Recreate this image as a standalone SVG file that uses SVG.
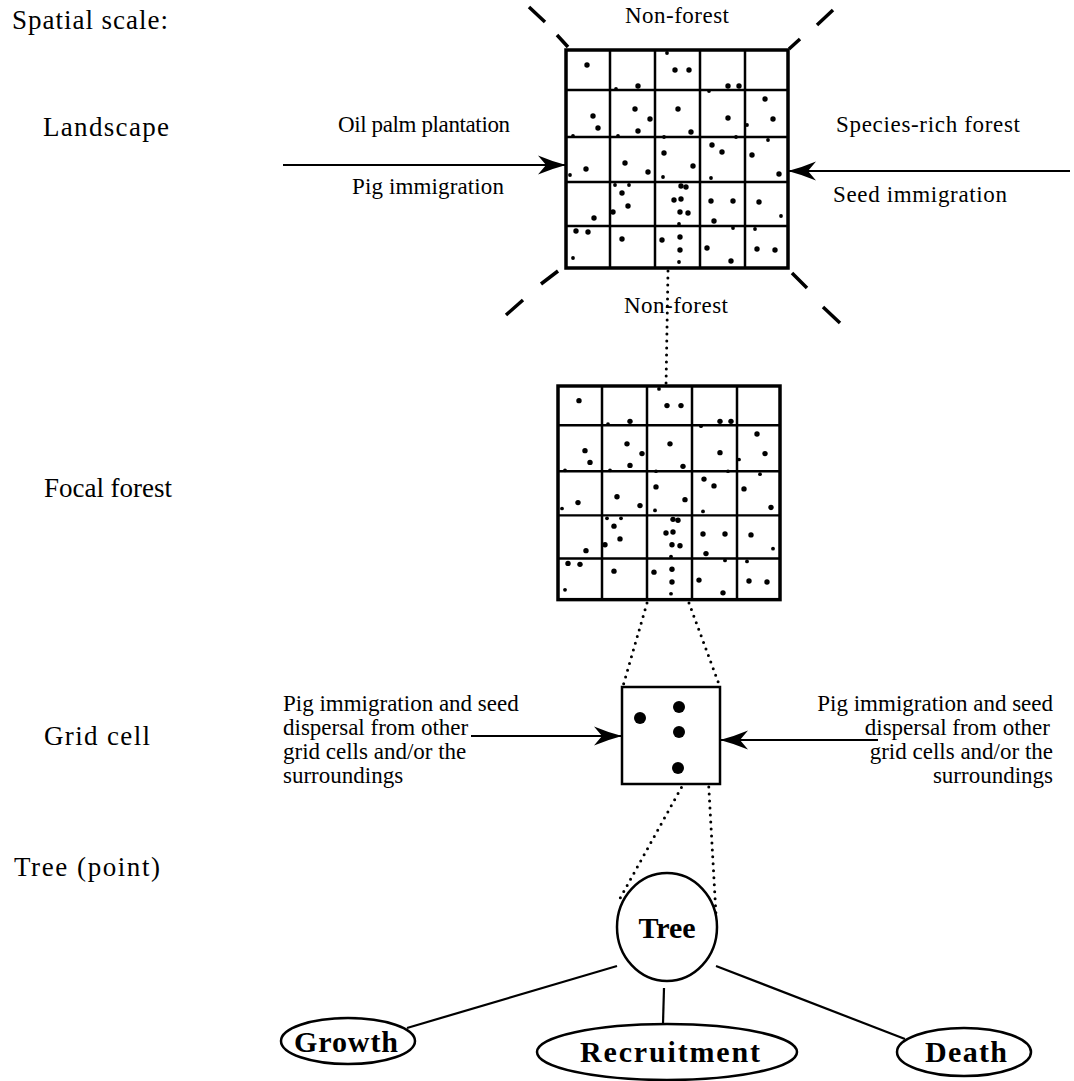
<svg xmlns="http://www.w3.org/2000/svg" xmlns:xlink="http://www.w3.org/1999/xlink" width="1074" height="1081" viewBox="0 0 1074 1081">
<style>
  text { font-family: "Liberation Serif", "Times New Roman", serif; fill: #000; }
  .lbl { font-size: 27px; }
  .sm { font-size: 23px; }
  .bold { font-size: 30px; font-weight: bold; }
  .line { stroke: #000; stroke-width: 2.2; fill: none; }
  .dots { stroke: #000; stroke-width: 3; stroke-linecap: round; stroke-dasharray: 0 7; fill: none; }
  .dash { stroke: #000; stroke-width: 3.5; stroke-linecap: butt; fill: none; }
  .outer { stroke: #000; stroke-width: 3.5; fill: #fff; }
  .inner { stroke: #000; stroke-width: 2.5; fill: none; }
  .shape { stroke: #000; stroke-width: 2.5; fill: #fff; }
  .arrow { stroke: #000; stroke-width: 2.2; fill: none; marker-end: url(#head); }
</style>
<defs>
  <marker id="head" markerUnits="userSpaceOnUse" markerWidth="30" markerHeight="22" refX="28" refY="10" orient="auto" viewBox="0 0 30 22">
    <path d="M28,10 Q13,6 0,0.5 L8,10 L0,19.5 Q13,14 28,10 Z" fill="#000"/>
  </marker>
  <g id="forestGrid">
    <rect class="outer" x="566" y="50" width="222" height="218"/>
    <path class="inner" d="M610,50V268M655,50V268M700,50V268M745,50V268M566,90H788M566,137H788M566,182H788M566,226H788"/>
    <g fill="#000">
      <circle cx="587" cy="65" r="2.7"/><circle cx="638" cy="86" r="2.7"/><circle cx="675" cy="70" r="2.7"/><circle cx="689" cy="70" r="2.7"/><circle cx="728" cy="86" r="2.7"/><circle cx="739" cy="86" r="2.7"/>
      <circle cx="593" cy="116" r="2.7"/><circle cx="598" cy="128" r="2.7"/><circle cx="635" cy="109" r="2.7"/><circle cx="650" cy="119" r="2.7"/><circle cx="638" cy="131" r="2.7"/><circle cx="678" cy="109" r="2.7"/><circle cx="691" cy="132" r="2.7"/><circle cx="728" cy="118" r="2.7"/><circle cx="765" cy="99" r="2.7"/><circle cx="773" cy="119" r="2.7"/>
      <circle cx="586" cy="169" r="2.7"/><circle cx="625" cy="163" r="2.7"/><circle cx="648" cy="172" r="2.7"/><circle cx="664" cy="153" r="2.7"/><circle cx="693" cy="166" r="2.7"/><circle cx="712" cy="145" r="2.7"/><circle cx="722" cy="152" r="2.7"/><circle cx="752" cy="155" r="2.7"/><circle cx="779" cy="174" r="2.7"/>
      <circle cx="622" cy="193" r="2.7"/><circle cx="628" cy="206" r="2.7"/><circle cx="613" cy="212" r="2.7"/><circle cx="594" cy="218" r="2.7"/><circle cx="681" cy="186" r="2.7"/><circle cx="686" cy="187" r="2.7"/><circle cx="674" cy="200" r="2.7"/><circle cx="681" cy="199" r="2.7"/><circle cx="680" cy="212" r="2.7"/><circle cx="688" cy="213" r="2.7"/><circle cx="711" cy="201" r="2.7"/><circle cx="733" cy="201" r="2.7"/><circle cx="714" cy="221" r="2.7"/><circle cx="759" cy="202" r="2.7"/>
      <circle cx="576" cy="231" r="2.7"/><circle cx="588" cy="232" r="2.7"/><circle cx="622" cy="239" r="2.7"/><circle cx="662" cy="240" r="2.7"/><circle cx="680" cy="237" r="2.7"/><circle cx="680" cy="250" r="2.7"/><circle cx="707" cy="248" r="2.7"/><circle cx="731" cy="261" r="2.7"/><circle cx="757" cy="249" r="2.7"/><circle cx="775" cy="250" r="2.7"/>
      <circle cx="616" cy="89" r="1.9"/><circle cx="667" cy="53" r="1.9"/><circle cx="709" cy="91" r="1.9"/><circle cx="747" cy="125" r="1.9"/><circle cx="573" cy="136" r="1.9"/><circle cx="618" cy="136" r="1.9"/><circle cx="664" cy="137" r="1.9"/><circle cx="736" cy="137" r="1.9"/><circle cx="768" cy="140" r="1.9"/><circle cx="570" cy="175" r="1.9"/><circle cx="663" cy="177" r="1.9"/><circle cx="711" cy="178" r="1.9"/><circle cx="615" cy="185" r="1.9"/><circle cx="629" cy="185" r="1.9"/><circle cx="679" cy="224" r="1.9"/><circle cx="733" cy="228" r="1.9"/><circle cx="781" cy="216" r="1.9"/><circle cx="755" cy="229" r="1.9"/><circle cx="573" cy="258" r="1.9"/><circle cx="679" cy="262" r="1.9"/>
    </g>
  </g>
</defs>
<rect width="1074" height="1081" fill="#fff"/>

<g id="scale-labels">
  <text class="lbl" x="12" y="29" textLength="156">Spatial scale:</text>
  <text class="lbl" x="43" y="136" textLength="126">Landscape</text>
  <text class="lbl" x="44" y="497" textLength="128">Focal forest</text>
  <text class="lbl" x="44" y="745" textLength="106">Grid cell</text>
  <text class="lbl" x="14" y="876" textLength="146">Tree (point)</text>
</g>

<g id="connectors">
  <line class="arrow" x1="283" y1="165" x2="566" y2="165"/>
  <line class="arrow" x1="1070" y1="171" x2="788" y2="171"/>
  <line class="arrow" x1="471" y1="736" x2="622" y2="736"/>
  <line class="arrow" x1="878" y1="740" x2="720" y2="740"/>
  <line class="dots" x1="668" y1="271" x2="666" y2="386"/>
  <line class="dots" x1="647" y1="603" x2="623" y2="686"/>
  <line class="dots" x1="689" y1="603" x2="720" y2="687"/>
  <line class="dots" x1="695" y1="763" x2="618" y2="902"/>
  <line class="dots" x1="708" y1="773" x2="716" y2="915"/>
  <line class="line" x1="617" y1="966" x2="407" y2="1028"/>
  <line class="line" x1="664" y1="988" x2="663" y2="1024"/>
  <line class="line" x1="716" y1="966" x2="905" y2="1039"/>
</g>

<g id="landscape">
  <use xlink:href="#forestGrid" href="#forestGrid"/>
  <path class="dash" d="M568,47L557,35M545,22L529,7M789,49L800,39M817,25L833,10M558,271L541,284M523,300L506,315M792,273L807,288M823,307L840,323"/>
  <text class="sm" x="677" y="23" text-anchor="middle" textLength="104">Non-forest</text>
  <text class="sm" x="676" y="313" text-anchor="middle" textLength="104">Non-forest</text>
  <text class="sm" x="338" y="132" textLength="172">Oil palm plantation</text>
  <text class="sm" x="352" y="194" textLength="152">Pig immigration</text>
  <text class="sm" x="836" y="132" textLength="184">Species-rich forest</text>
  <text class="sm" x="833" y="202" textLength="174">Seed immigration</text>
</g>

<g id="focal-forest">
  <use xlink:href="#forestGrid" href="#forestGrid" transform="translate(558,386) scale(1,0.98) translate(-566,-50)"/>
</g>

<g id="grid-cell">
  <rect class="outer" x="622" y="687" width="98" height="97" style="stroke-width:2.5"/>
  <g fill="#000">
    <circle cx="640" cy="718" r="6"/>
    <circle cx="679" cy="707" r="6"/>
    <circle cx="679" cy="732" r="6"/>
    <circle cx="678" cy="768" r="6"/>
  </g>
  <g class="sm">
    <text x="283" y="711">Pig immigration and seed</text>
    <text x="283" y="735">dispersal from other</text>
    <text x="283" y="759">grid cells and/or the</text>
    <text x="283" y="783">surroundings</text>
  </g>
  <g class="sm" text-anchor="end">
    <text x="1053" y="711">Pig immigration and seed</text>
    <text x="1050" y="735">dispersal from other</text>
    <text x="1053" y="759">grid cells and/or the</text>
    <text x="1053" y="783">surroundings</text>
  </g>
</g>

<g id="tree">
  <ellipse class="shape" cx="667" cy="927" rx="50" ry="54"/>
  <text class="bold" x="667" y="938" text-anchor="middle">Tree</text>
</g>
<g id="growth">
  <ellipse class="shape" cx="348" cy="1041" rx="67" ry="23"/>
  <text class="bold" x="346" y="1052" text-anchor="middle" textLength="104">Growth</text>
</g>
<g id="recruitment">
  <ellipse class="shape" cx="667" cy="1052" rx="130" ry="28"/>
  <text class="bold" x="670" y="1062" text-anchor="middle" textLength="180">Recruitment</text>
</g>
<g id="death">
  <ellipse class="shape" cx="964" cy="1052" rx="67" ry="24"/>
  <text class="bold" x="966" y="1062" text-anchor="middle" textLength="82">Death</text>
</g>
</svg>
